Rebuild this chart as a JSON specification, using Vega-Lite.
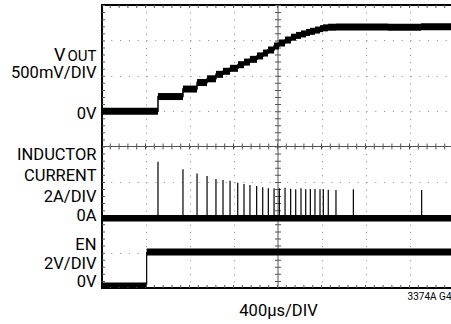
{
  "$schema": "https://vega.github.io/schema/vega-lite/v6.json",
  "width": 352,
  "height": 283,
  "autosize": "none",
  "padding": {"left": 102, "top": 5, "right": 0, "bottom": 36},
  "config": {
    "view": {"stroke": "#000", "strokeWidth": 2},
    "font": "Roboto",
    "axis": {"labelFont": "Roboto", "titleFont": "Roboto", "labelColor": "#000", "titleColor": "#000", "titleFontWeight": "normal"}
  },
  "datasets": {
    "vout": [
      {"t0": 0, "t1": 509, "v": 0},
      {"t0": 509, "t1": 736, "v": 0.206},
      {"t0": 736, "t1": 864, "v": 0.312},
      {"t0": 864, "t1": 955, "v": 0.404},
      {"t0": 955, "t1": 1036, "v": 0.457},
      {"t0": 1036, "t1": 1100, "v": 0.52},
      {"t0": 1100, "t1": 1164, "v": 0.563},
      {"t0": 1164, "t1": 1236, "v": 0.605},
      {"t0": 1236, "t1": 1291, "v": 0.656},
      {"t0": 1291, "t1": 1345, "v": 0.693},
      {"t0": 1345, "t1": 1409, "v": 0.732},
      {"t0": 1409, "t1": 1464, "v": 0.78},
      {"t0": 1464, "t1": 1509, "v": 0.821},
      {"t0": 1509, "t1": 1564, "v": 0.864},
      {"t0": 1564, "t1": 1609, "v": 0.92},
      {"t0": 1609, "t1": 1664, "v": 0.963},
      {"t0": 1664, "t1": 1718, "v": 1.005},
      {"t0": 1718, "t1": 1764, "v": 1.045},
      {"t0": 1764, "t1": 1809, "v": 1.07},
      {"t0": 1809, "t1": 1855, "v": 1.091},
      {"t0": 1855, "t1": 1891, "v": 1.112},
      {"t0": 1891, "t1": 1936, "v": 1.128},
      {"t0": 1936, "t1": 1982, "v": 1.146},
      {"t0": 1982, "t1": 2009, "v": 1.166},
      {"t0": 2009, "t1": 2055, "v": 1.177},
      {"t0": 2055, "t1": 2127, "v": 1.186},
      {"t0": 2127, "t1": 2600, "v": 1.189},
      {"t0": 2600, "t1": 2900, "v": 1.186},
      {"t0": 2900, "t1": 3200, "v": 1.192}
    ],
    "ilbase": [{"t0": 0, "t1": 3200, "i": 0}],
    "spikes": [
      {"t": 509, "peak": 3.2},
      {"t": 736, "peak": 2.77},
      {"t": 864, "peak": 2.54},
      {"t": 955, "peak": 2.39},
      {"t": 1036, "peak": 2.22},
      {"t": 1100, "peak": 2.17},
      {"t": 1164, "peak": 2.13},
      {"t": 1234, "peak": 2.01},
      {"t": 1291, "peak": 1.94},
      {"t": 1345, "peak": 1.88},
      {"t": 1406, "peak": 1.83},
      {"t": 1461, "peak": 1.75},
      {"t": 1512, "peak": 1.7},
      {"t": 1564, "peak": 1.7},
      {"t": 1612, "peak": 1.7},
      {"t": 1664, "peak": 1.73},
      {"t": 1715, "peak": 1.67},
      {"t": 1761, "peak": 1.64},
      {"t": 1809, "peak": 1.7},
      {"t": 1852, "peak": 1.64},
      {"t": 1894, "peak": 1.66},
      {"t": 1936, "peak": 1.66},
      {"t": 1982, "peak": 1.64},
      {"t": 2012, "peak": 1.64},
      {"t": 2057, "peak": 1.62},
      {"t": 2127, "peak": 1.6},
      {"t": 2285, "peak": 1.64},
      {"t": 2906, "peak": 1.6}
    ],
    "en": [
      {"t0": 0, "t1": 406, "v": 0},
      {"t0": 406, "t1": 3200, "v": 1.85}
    ]
  },
  "layer": [
    {
      "data": {"values": [{}]},
      "mark": {"type": "rule", "color": "#555", "strokeWidth": 1},
      "encoding": {
        "y": {
          "datum": 4, "type": "quantitative",
          "scale": {"domain": [0, 8], "nice": false, "zero": false},
          "axis": {
            "orient": "left",
            "values": [1, 2, 3, 5, 6, 7, 6.42, 5.956, 4.797, 3.638, 3.033, 2.44, 1.902, 1.102, 0.557, 0.037],
            "labelExpr": "datum.value == 6.42 ? 'OUT' : datum.value == 5.956 ? '500mV/DIV' : datum.value == 4.797 ? '0V' : datum.value == 3.638 ? 'INDUCTOR' : datum.value == 3.033 ? 'CURRENT' : datum.value == 2.44 ? '2A/DIV' : datum.value == 1.902 ? '0A' : datum.value == 1.102 ? 'EN' : datum.value == 0.557 ? '2V/DIV' : datum.value == 0.037 ? '0V' : ''",
            "labelFontSize": {"condition": {"test": "datum.value == 6.42", "value": 15}, "value": 16.5},
            "labelBaseline": "alphabetic",
            "labelAlign": "right",
            "labelPadding": 6,
            "labelOverlap": false,
            "labelFlush": false,
            "labelBound": false,
            "ticks": false,
            "domain": false,
            "grid": true,
            "gridDash": [1, 7.8],
            "gridColor": "#888",
            "gridOpacity": {"condition": {"test": "datum.value % 1 != 0", "value": 0}, "value": 1},
            "title": null
          }
        }
      }
    },
    {
      "data": {"values": [{}]},
      "mark": {"type": "rule", "color": "#555", "strokeWidth": 6, "strokeDash": [1, 7.8]},
      "encoding": {
        "y": {
          "datum": 4, "type": "quantitative",
          "scale": {"domain": [0, 8], "nice": false, "zero": false},
          "axis": {
            "orient": "left",
            "values": [6.445],
            "labelExpr": "'V'",
            "labelFontSize": 18,
            "labelBaseline": "alphabetic",
            "labelAlign": "right",
            "labelPadding": 37,
            "labelOverlap": false,
            "labelFlush": false,
            "labelBound": false,
            "ticks": false,
            "domain": false,
            "grid": false,
            "title": null
          }
        }
      }
    },
    {
      "data": {"values": [{}]},
      "mark": {"type": "rule", "color": "#555", "strokeWidth": 1},
      "encoding": {
        "x": {
          "datum": 1600, "type": "quantitative",
          "scale": {"domain": [0, 3200], "nice": false, "zero": false},
          "axis": {
            "orient": "bottom",
            "values": [400, 800, 1200, 2000, 2400, 2800, 3173],
            "labelExpr": "datum.value > 3000 ? '3374A G4' : ''",
            "labelFontSize": 10,
            "labelAlign": "right",
            "labelBaseline": "top",
            "labelPadding": 3,
            "labelFlush": false,
            "labelOverlap": false,
            "labelBound": false,
            "ticks": false,
            "domain": false,
            "grid": true,
            "gridDash": [1, 6.075],
            "gridColor": "#888",
            "gridOpacity": {"condition": {"test": "datum.value > 3000", "value": 0}, "value": 1},
            "title": "400µs/DIV",
            "titleFontSize": 16.5,
            "titlePadding": 1
          }
        }
      }
    },
    {
      "data": {"values": [{}]},
      "mark": {"type": "rule", "color": "#555", "strokeWidth": 6, "strokeDash": [1, 6.075]},
      "encoding": {
        "x": {"datum": 1600, "type": "quantitative", "scale": {"domain": [0, 3200], "nice": false, "zero": false}}
      }
    },
    {
      "data": {"values": [{}]},
      "mark": {"type": "rule", "color": "#555", "strokeWidth": 6, "strokeDash": [1, 7.8], "clip": true},
      "encoding": {
        "y": {"datum": 8, "type": "quantitative", "scale": {"domain": [0, 8], "nice": false, "zero": false}, "axis": null}
      }
    },
    {
      "data": {"values": [{}]},
      "mark": {"type": "rule", "color": "#555", "strokeWidth": 6, "strokeDash": [1, 7.8], "clip": true},
      "encoding": {
        "y": {"datum": 0, "type": "quantitative", "scale": {"domain": [0, 8], "nice": false, "zero": false}, "axis": null}
      }
    },
    {
      "data": {"values": [{}]},
      "mark": {"type": "rule", "color": "#555", "strokeWidth": 6, "strokeDash": [1, 6.075], "clip": true},
      "encoding": {
        "x": {"datum": 0, "type": "quantitative", "scale": {"domain": [0, 3200], "nice": false, "zero": false}}
      }
    },
    {
      "data": {"name": "vout"},
      "mark": {"type": "rule", "color": "#000", "strokeWidth": 7, "strokeCap": "butt"},
      "encoding": {
        "x": {"field": "t0", "type": "quantitative", "scale": {"domain": [0, 3200], "nice": false, "zero": false}},
        "x2": {"field": "t1"},
        "y": {"field": "v", "type": "quantitative", "scale": {"domain": [-2.5, 1.5], "nice": false, "zero": false}, "axis": null}
      }
    },
    {
      "data": {"name": "vout"},
      "mark": {"type": "line", "color": "#000", "strokeWidth": 1.5, "interpolate": "step-after"},
      "encoding": {
        "x": {"field": "t0", "type": "quantitative", "scale": {"domain": [0, 3200], "nice": false, "zero": false}},
        "y": {"field": "v", "type": "quantitative", "scale": {"domain": [-2.5, 1.5], "nice": false, "zero": false}, "axis": null}
      }
    },
    {
      "data": {"name": "ilbase"},
      "mark": {"type": "rule", "color": "#000", "strokeWidth": 6.5, "strokeCap": "butt"},
      "encoding": {
        "x": {"field": "t0", "type": "quantitative", "scale": {"domain": [0, 3200], "nice": false, "zero": false}},
        "x2": {"field": "t1"},
        "y": {"field": "i", "type": "quantitative", "scale": {"domain": [-3.94, 12.06], "nice": false, "zero": false}, "axis": null}
      }
    },
    {
      "data": {"name": "spikes"},
      "mark": {"type": "rule", "color": "#000", "strokeWidth": 1.2},
      "encoding": {
        "x": {"field": "t", "type": "quantitative", "scale": {"domain": [0, 3200], "nice": false, "zero": false}},
        "y": {"field": "peak", "type": "quantitative", "scale": {"domain": [-3.94, 12.06], "nice": false, "zero": false}, "axis": null},
        "y2": {"datum": 0}
      }
    },
    {
      "data": {"name": "en"},
      "mark": {"type": "rule", "color": "#000", "strokeCap": "butt"},
      "encoding": {
        "x": {"field": "t0", "type": "quantitative", "scale": {"domain": [0, 3200], "nice": false, "zero": false}},
        "x2": {"field": "t1"},
        "y": {"field": "v", "type": "quantitative", "scale": {"domain": [-0.19, 15.81], "nice": false, "zero": false}, "axis": null},
        "strokeWidth": {"condition": {"test": "datum.v > 0", "value": 7}, "value": 4.5}
      }
    },
    {
      "data": {"name": "en"},
      "transform": [{"filter": "datum.v > 0"}],
      "mark": {"type": "rule", "color": "#000", "strokeWidth": 1.2},
      "encoding": {
        "x": {"field": "t0", "type": "quantitative", "scale": {"domain": [0, 3200], "nice": false, "zero": false}},
        "y": {"field": "v", "type": "quantitative", "scale": {"domain": [-0.19, 15.81], "nice": false, "zero": false}, "axis": null},
        "y2": {"datum": 0}
      }
    }
  ],
  "resolve": {"scale": {"y": "independent"}}
}
